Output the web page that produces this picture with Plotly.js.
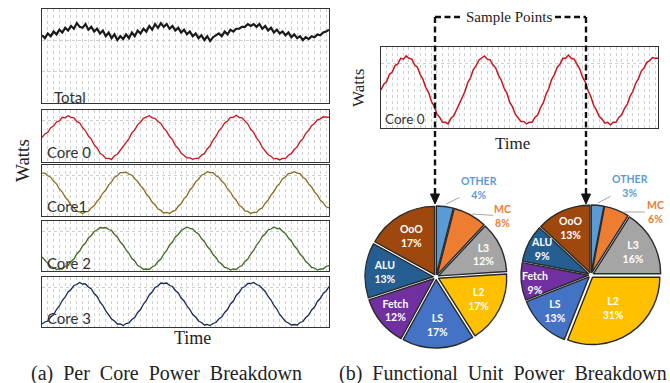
<!DOCTYPE html>
<html><head><meta charset="utf-8">
<script src="https://cdn.plot.ly/plotly-3.0.1.min.js"></script>
<style>html,body{margin:0;padding:0;background:#fff;}#chart{width:670px;height:383px;}</style>
</head><body><div id="chart"></div>
<script>
// ---- data (0-100 scale within each panel) ----
const totalPower = [72,69,74,71,76,73,78,75,80,77,82,79,85,81,80,84,78,81,76,79,74,77,71,75,69,73,67,71,68,73,69,75,71,77,74,79,76,82,78,84,80,85,81,84,79,82,77,80,75,78,73,76,71,74,69,72,67,71,66,70,72,74,71,76,73,78,76,79,79,81,81,84,82,84,81,84,79,82,77,80,75,78,74,76,72,75,70,73,69,71,67,70,68,71,70,73,72,75,76,78];
const core0Power = [47,54,57,66,69,77,79,86,85,89,86,85,78,75,66,60,50,44,33,27,17,13,7,7,5,12,15,23,29,39,45,56,62,72,77,84,86,89,85,84,78,74,65,59,49,43,32,26,17,13,8,8,5,7,7,13,16,25,31,42,49,60,66,75,79,86,86,90,86,85,78,73,63,57,46,39,28,22,14,11,6,7,4,7,7,13,16,24,29,39,45,55,61,70,74,81,83,87,86,86];
const core1Power = [84,84,79,76,68,63,53,47,37,31,21,16,9,8,5,8,9,16,20,29,35,45,51,61,67,76,79,85,85,86,82,80,73,68,59,53,43,37,27,22,14,11,6,7,5,9,11,19,24,34,40,51,57,67,72,80,82,87,85,85,79,76,68,63,53,47,37,31,21,17,10,9,5,7,7,13,16,25,31,41,48,58,64,73,77,83,84,87,84,83,76,72,63,57,47,41,31,26,18,16];
const core2Power = [28,21,16,9,7,3,4,4,9,11,19,24,34,40,50,56,66,71,79,82,87,86,87,83,81,73,68,58,52,42,35,25,20,11,8,3,4,3,8,11,19,24,34,41,52,58,68,73,81,84,88,85,84,78,74,65,59,49,43,33,27,18,14,7,6,2,4,3,8,11,19,24,34,41,52,59,69,74,82,84,88,85,85,79,75,66,60,50,44,34,28,19,14,7,6,2,4,4,9,11];
const core3Power = [6,10,12,20,25,35,42,53,60,70,75,83,85,89,86,86,80,76,67,61,50,43,32,25,16,12,6,6,3,7,8,15,19,29,35,46,53,64,70,79,82,88,87,88,83,81,73,68,58,52,42,35,25,20,12,9,4,5,3,7,9,16,20,29,35,46,52,63,69,78,81,87,87,89,85,83,76,71,61,54,43,36,25,19,11,8,4,5,4,9,11,19,24,34,40,51,57,67,72,81];

const panelNames = ['Total', 'Core 0', 'Core1', 'Core 2', 'Core 3'];
const units = ['OTHER', 'MC', 'L3', 'L2', 'LS', 'Fetch', 'ALU', 'OoO'];
const sample1Share = [4, 8, 12, 17, 17, 12, 13, 17];
const sample2Share = [3, 6, 16, 31, 13, 9, 9, 13];
const unitColors = ['#5B9BD5', '#ED7D31', '#A5A5A5', '#FFC000', '#4472C4', '#7030A0', '#255E91', '#9E480E'];

// ---- helpers ----
const W = 670, H = 383;
const px = x => x / W;
const py = y => 1 - y / H;
const idx = arr => arr.map((_, i) => i);

const lineColors = ['#1a1a1a', '#C8151E', '#8C6B1E', '#3F6A22', '#15295C'];
const seriesList = [totalPower, core0Power, core1Power, core2Power, core3Power];
const panelPx = [[9, 103], [110, 162], [165, 216], [221, 271], [277, 327]];

const traces = [];
const layout = {
  width: W, height: H,
  margin: {l: 0, r: 0, t: 0, b: 0},
  paper_bgcolor: '#fff', plot_bgcolor: '#fff',
  showlegend: false,
  annotations: [], shapes: []
};

function axisPair(n, xd, yd, yTicks) {
  const xs = n === 1 ? 'xaxis' : 'xaxis' + n;
  const ys = n === 1 ? 'yaxis' : 'yaxis' + n;
  layout[xs] = {
    domain: xd, range: [0, 99], anchor: n === 1 ? 'y' : 'y' + n,
    showgrid: true, gridcolor: '#cfcfcf', griddash: 'dot', gridwidth: 1,
    tick0: 0, dtick: 2, showticklabels: false, ticks: '', zeroline: false,
    showline: true, mirror: true, linecolor: '#333', linewidth: 1.4, fixedrange: true
  };
  layout[ys] = {
    domain: yd, range: [0, 100], anchor: n === 1 ? 'x' : 'x' + n,
    showgrid: true, gridcolor: '#cfcfcf', griddash: 'dot', gridwidth: 1,
    tickmode: 'array', tickvals: yTicks, showticklabels: false, ticks: '', zeroline: false,
    showline: true, mirror: true, linecolor: '#333', linewidth: 1.4, fixedrange: true
  };
}

seriesList.forEach((s, k) => {
  const n = k + 1;
  axisPair(n, [px(42), px(329)], [py(panelPx[k][1]), py(panelPx[k][0])], k === 0 ? [33.3, 66.7] : [80]);
  traces.push({
    type: 'scatter', mode: 'lines', x: idx(s), y: s,
    xaxis: n === 1 ? 'x' : 'x' + n, yaxis: n === 1 ? 'y' : 'y' + n,
    line: {color: lineColors[k], width: k === 0 ? 2.2 : 1.3},
    hoverinfo: 'skip'
  });
});
// right Core 0 panel
axisPair(6, [px(381), px(658)], [py(128), py(47)], [80]);
traces.push({
  type: 'scatter', mode: 'lines', x: idx(core0Power), y: core0Power,
  xaxis: 'x6', yaxis: 'y6', line: {color: lineColors[1], width: 1.5}, hoverinfo: 'skip'
});

// pies: slices listed in `external` get their label as an annotation instead
function pie(values, dx, dy, external) {
  return {
    type: 'pie', values: values, labels: units, sort: false, direction: 'clockwise', rotation: 0,
    marker: {colors: unitColors, line: {color: '#2a2a2a', width: 1.4}},
    pull: 0.04, hole: 0,
    textposition: 'inside', insidetextorientation: 'horizontal',
    texttemplate: units.map((u, i) => (i < 2 || external.includes(i)) ? '' : '<b>%{label}</b><br><b>%{value}%</b>'),
    insidetextfont: {family: 'Lato', size: 10.5, color: '#ffffff'},
    domain: {x: dx, y: dy}, hoverinfo: 'skip', showlegend: false
  };
}
traces.push(pie(sample1Share, [px(365), px(507)], [py(348), py(206)], []));
traces.push(pie(sample2Share, [px(521), px(661)], [py(345), py(205)], [5, 6]));

// text annotations
function txt(t, x, y, font, extra) {
  layout.annotations.push(Object.assign({
    text: t, x: px(x), y: py(y), xref: 'paper', yref: 'paper',
    showarrow: false, xanchor: 'center', yanchor: 'middle', font: font
  }, extra || {}));
}
const lab = {family: 'Lato', size: 15, color: '#333'};
txt(panelNames[0], 52, 97, lab, {xanchor: 'left'});
txt(panelNames[1], 45, 152, lab, {xanchor: 'left'});
txt(panelNames[2], 45, 206, lab, {xanchor: 'left'});
txt(panelNames[3], 45, 263, lab, {xanchor: 'left'});
txt(panelNames[4], 45, 318, lab, {xanchor: 'left'});
txt('Core 0', 383, 119, {family: 'Lato', size: 13.5, color: '#333'}, {xanchor: 'left'});

const serif = s => ({family: 'Liberation Serif', size: s, color: '#222'});
txt('Watts', 22, 161, serif(19), {textangle: -90});
txt('Time', 192, 338, serif(18));
txt('Watts', 358, 88, serif(17), {textangle: -90});
txt('Time', 512, 143, serif(17));
txt('Sample Points', 509, 17, serif(15));
txt('(a) \u00a0Per \u00a0Core \u00a0Power \u00a0Breakdown', 166, 373, serif(20));
txt('(b) \u00a0Functional \u00a0Unit \u00a0Power \u00a0Breakdown', 503, 373, serif(20));

// full-size labels for the two narrow slices of the second pie
const white = {family: 'Lato', size: 10.5, color: '#ffffff'};
txt('<b>' + units[6] + '</b><br><b>' + sample2Share[6] + '%</b>', 542, 249, white);
txt('<b>' + units[5] + '</b><br><b>' + sample2Share[5] + '%</b>', 535, 283, white);

// outside pie labels with leader lines
function lead(t, color, tipX, tipY, textX, textY) {
  layout.annotations.push({
    text: t, x: px(tipX), y: py(tipY), xref: 'paper', yref: 'paper',
    showarrow: true, arrowhead: 0, arrowwidth: 1, arrowcolor: '#a6a6a6',
    ax: textX - tipX, ay: textY - tipY, xanchor: 'center', yanchor: 'middle',
    font: {family: 'Lato', size: 10.5, color: color}
  });
}
lead('<b>' + units[0] + '</b><br><b>' + sample1Share[0] + '%</b>', unitColors[0], 446, 204, 479, 188);
lead('<b>' + units[1] + '</b><br><b>' + sample1Share[1] + '%</b>', unitColors[1], 472, 214, 503, 216);
lead('<b>' + units[0] + '</b><br><b>' + sample2Share[0] + '%</b>', unitColors[0], 598, 203, 630, 186);
lead('<b>' + units[1] + '</b><br><b>' + sample2Share[1] + '%</b>', unitColors[1], 623, 212, 655, 212);

// dashed "sample points" bracket
const dashLine = {color: '#111', width: 2.4, dash: '6px,3.5px'};
function seg(x0, y0, x1, y1) {
  layout.shapes.push({type: 'line', xref: 'paper', yref: 'paper',
    x0: px(x0), y0: py(y0), x1: px(x1), y1: py(y1), line: dashLine, layer: 'above'});
}
seg(435, 17, 462, 17);
seg(555, 17, 586, 17);
seg(435, 17, 435, 194);
seg(586, 17, 586, 194);
function head(x) {
  layout.shapes.push({type: 'path', xref: 'paper', yref: 'paper', layer: 'above',
    path: `M ${px(x - 4.5)},${py(194)} L ${px(x + 4.5)},${py(194)} L ${px(x)},${py(204)} Z`,
    fillcolor: '#111', line: {color: '#111', width: 1}});
}
head(435);
head(586);

Plotly.newPlot('chart', traces, layout, {staticPlot: true, displayModeBar: false});
</script></body></html>
